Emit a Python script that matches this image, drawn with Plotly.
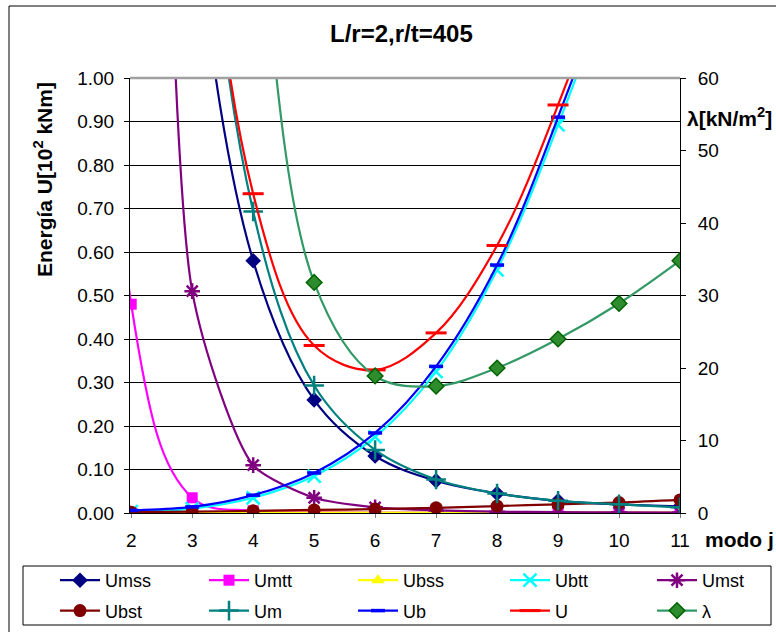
import plotly.graph_objects as go

# modo j (x = 1 lies outside the visible axis range, curves enter from off-chart)
modo = [1, 2, 3, 4, 5, 6, 7, 8, 9, 10, 11]

Umss = [7.0, 3.0, 1.40, 0.58, 0.26, 0.131, 0.074, 0.045, 0.028, 0.020, 0.015]
Umtt = [200.0, 0.48, 0.035, 0.005, 0.002, 0.001, 0.001, 0.001, 0.001, 0.001, 0.001]
Ubss = [0.001, 0.001, 0.001, 0.001, 0.001, 0.001, 0.001, 0.001, 0.001, 0.001, 0.001]
Ubtt = [0.001, 0.003, 0.010, 0.035, 0.085, 0.175, 0.325, 0.559, 0.892, 1.30, 2.00]
Umst = [60.0, 8.0, 0.51, 0.11, 0.035, 0.013, 0.006, 0.003, 0.002, 0.0015, 0.001]
Ubst = [0.001, 0.002, 0.003, 0.005, 0.007, 0.009, 0.012, 0.016, 0.020, 0.024, 0.030]
Um = [60.0, 11.5, 1.95, 0.693, 0.293, 0.145, 0.077, 0.045, 0.028, 0.020, 0.013]
Ub = [0.003, 0.006, 0.014, 0.041, 0.092, 0.184, 0.337, 0.570, 0.910, 1.32, 2.03]
U = [60.0, 11.5, 1.96, 0.734, 0.385, 0.329, 0.414, 0.615, 0.938, 1.35, 2.05]
lam = [400.0, 250.0, 170.0, 90.0, 31.8, 18.9, 17.5, 20.0, 24.0, 28.9, 34.8]

x_ticks = [2, 3, 4, 5, 6, 7, 8, 9, 10, 11]

FONT = "Liberation Sans, Arial, sans-serif"

series = [
    ("Umss", Umss, "#000080", 1.0, dict(symbol="diamond", size=12, color="#000080")),
    ("Umtt", Umtt, "#FF00FF", 1.0, dict(symbol="square", size=11, color="#FF00FF")),
    ("Ubss", Ubss, "#FFFF00", 1.0, dict(symbol="triangle-up", size=12, color="#FFFF00")),
    ("Ubtt", Ubtt, "#00FFFF", 1.0, dict(symbol="x-thin-open", size=13, color="#00FFFF", line=dict(width=2.5, color="#00FFFF"))),
    ("Umst", Umst, "#800080", 0.6, dict(symbol="asterisk-open", size=13, color="#800080", line=dict(width=2.5, color="#800080"))),
    ("Ubst", Ubst, "#800000", 1.0, dict(symbol="circle", size=13, color="#800000")),
    ("Um", Um, "#008080", 1.0, dict(symbol="cross-thin-open", size=14, color="#008080", line=dict(width=2.5, color="#008080"))),
    ("Ub", Ub, "#0000FF", 1.0, dict(symbol="line-ew-open", size=10, color="#0000FF", line=dict(width=3.5, color="#0000FF"))),
    ("U", U, "#FF0000", 1.0, dict(symbol="line-ew-open", size=15, color="#FF0000", line=dict(width=3, color="#FF0000"))),
]

legend_ids = ["legend", "legend2", "legend3", "legend4", "legend5"]

fig = go.Figure()
for i, (name, vals, col, sm, mk) in enumerate(series):
    fig.add_trace(go.Scatter(
        x=modo, y=vals, name=name, mode="lines+markers",
        line=dict(color=col, width=2.2, shape="spline", smoothing=sm),
        marker=mk, yaxis="y", legend=legend_ids[i % 5], legendgroup=name))

fig.add_trace(go.Scatter(
    x=modo, y=lam, name="λ", mode="lines+markers", yaxis="y2",
    legend=legend_ids[4], legendgroup="lam",
    line=dict(color="#339966", width=2.2, shape="spline", smoothing=1.0),
    marker=dict(symbol="diamond", size=12, color="#2E8B2E", line=dict(width=1.5, color="#006400"))))

L, R, T, B = 130, 96, 78, 119
PW, PH = 776 - L - R, 632 - T - B


def px(xp):
    return (xp - L) / PW


def py(yp):
    return (632 - B - yp) / PH


legend_text_x = [102, 251, 400, 552, 699]
legends = {}
for lid, tx in zip(legend_ids, legend_text_x):
    legends[lid] = dict(
        orientation="v", xref="container", yref="container",
        x=(tx - 47) / 776, y=1 - 562 / 632, xanchor="left", yanchor="top",
        borderwidth=0, bgcolor="rgba(0,0,0,0)",
        font=dict(family=FONT, size=18, color="black"),
        tracegroupgap=4, itemwidth=40,
    )

fig.update_layout(
    width=776, height=632,
    margin=dict(l=L, r=R, t=T, b=B, autoexpand=False),
    paper_bgcolor="white", plot_bgcolor="white",
    font=dict(family=FONT, size=18, color="black"),
    showlegend=True,
    xaxis=dict(
        range=[1.98, 11], tickmode="array", tickvals=x_ticks,
        showgrid=False, zeroline=False,
        showline=True, linecolor="black", linewidth=1,
        ticks="outside", ticklen=4, tickcolor="#808080",
        ticklabelstandoff=6, automargin=False,
        tickfont=dict(size=19),
    ),
    yaxis=dict(
        range=[0, 1], dtick=0.1, tickformat=".2f",
        showgrid=True, gridcolor="black", gridwidth=1,
        zeroline=False, showline=True, linecolor="black", linewidth=1,
        ticks="outside", ticklen=5, tickcolor="black", automargin=False,
        ticklabelstandoff=6, tickfont=dict(size=19),
    ),
    yaxis2=dict(
        range=[0, 60], dtick=10, overlaying="y", side="right",
        showgrid=False, zeroline=False, showline=True,
        linecolor="black", linewidth=1, automargin=False,
        ticks="outside", ticklen=5, tickcolor="black",
        ticklabelstandoff=8, tickfont=dict(size=19),
    ),
    shapes=[
        dict(type="line", xref="paper", yref="paper", x0=0, x1=1, y0=1, y1=1,
             line=dict(color="#A0A0A0", width=2.5), layer="above"),
        dict(type="line", xref="paper", yref="paper", x0=px(9), x1=px(9), y0=py(6), y1=py(640),
             line=dict(color="black", width=1)),
        dict(type="line", xref="paper", yref="paper", x0=px(9), x1=px(800), y0=py(6), y1=py(6),
             line=dict(color="black", width=1)),
        dict(type="rect", xref="paper", yref="paper", x0=px(23), x1=px(771), y0=py(566), y1=py(625),
             line=dict(color="black", width=1), fillcolor="rgba(0,0,0,0)"),
    ],
    annotations=[
        dict(text="<b>L/r=2,r/t=405</b>", xref="paper", yref="paper",
             x=px(401), y=py(34), xanchor="center", yanchor="middle",
             showarrow=False, font=dict(size=24)),
        dict(text="<b>Energía U[10<sup>2</sup> kNm]</b>", xref="paper", yref="paper",
             x=px(43), y=py(180), xanchor="center", yanchor="middle",
             textangle=-90, showarrow=False, font=dict(size=21)),
        dict(text="<b>λ[kN/m<sup>2</sup>]</b>", xref="paper", yref="paper",
             x=px(685), y=py(117), xanchor="left", yanchor="middle",
             showarrow=False, font=dict(size=21)),
        dict(text="<b>modo j</b>", xref="paper", yref="paper",
             x=px(703), y=py(539), xanchor="left", yanchor="middle",
             showarrow=False, font=dict(size=21)),
    ],
    **legends,
)

fig.write_html("out.html")
